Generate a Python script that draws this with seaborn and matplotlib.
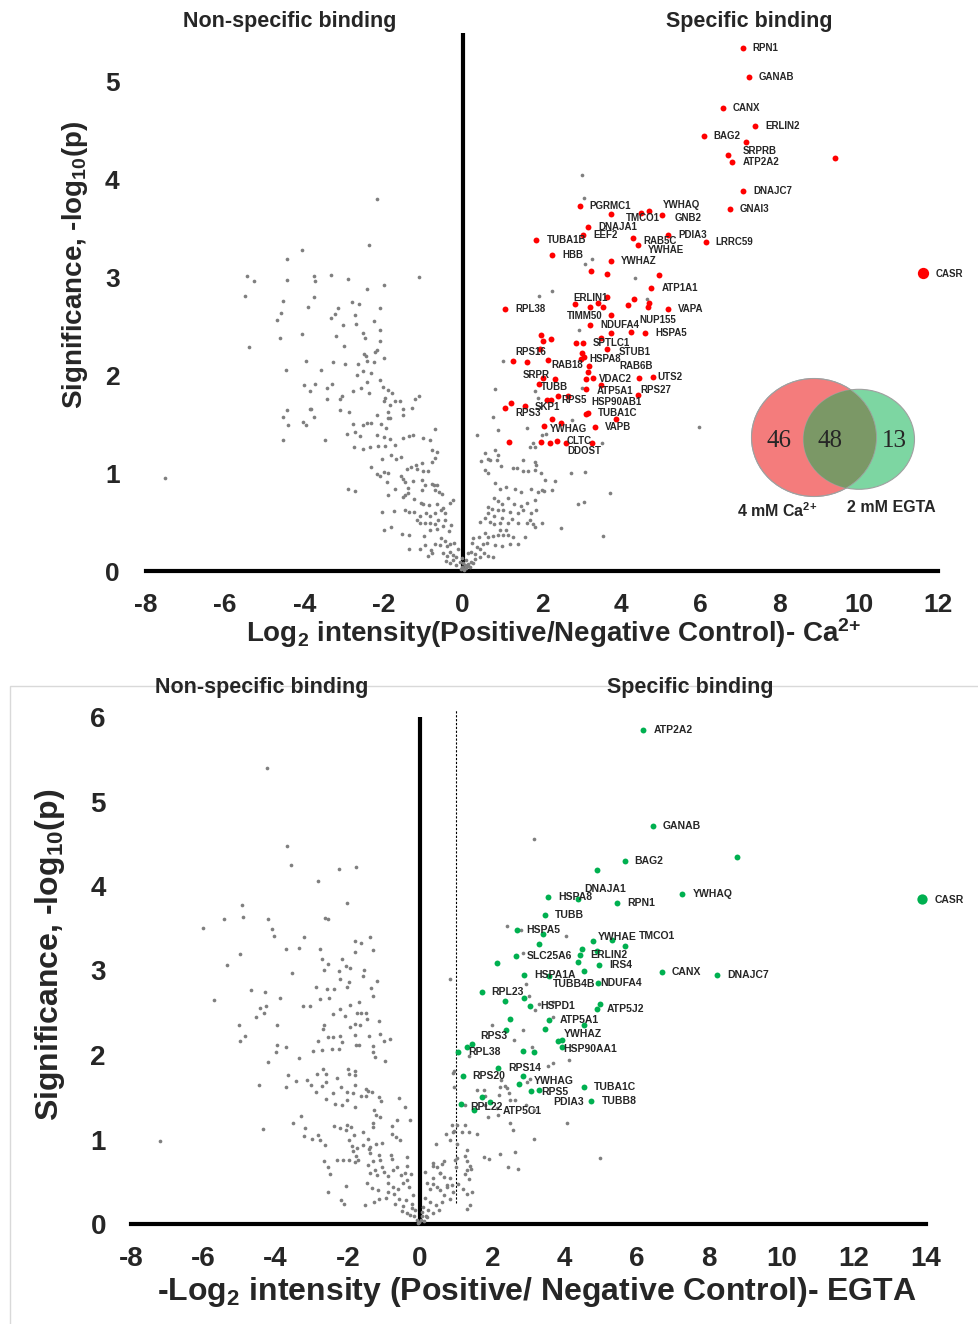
import numpy as np
import pandas as pd
import matplotlib
matplotlib.use("Agg")
import matplotlib.pyplot as plt
from matplotlib.patches import Ellipse, Rectangle
import seaborn as sns

# ---------------- data: top panel (4 mM Ca2+) ----------------
red_x = [7.07, 7.22, 6.57, 7.38, 6.08, 7.15, 6.69, 6.81, 9.40, 7.08, 6.74, 2.95, 3.74, 4.49, 4.69, 5.02,
         3.16, 3.04, 1.86, 4.31, 4.43, 5.19, 6.13, 2.26, 3.73, 3.23, 3.63, 4.95, 4.76, 3.65, 3.42, 3.22,
         3.55, 2.83, 4.32, 4.17, 4.70, 4.68, 5.19, 1.07, 3.73, 3.22, 3.74, 4.26, 4.60, 3.48, 3.63, 2.85,
         3.04, 1.98, 2.23, 2.02, 1.94, 1.28, 1.63, 2.15, 2.98, 3.06, 3.02, 3.18, 3.17, 2.33, 2.02, 3.12,
         3.29, 4.45, 4.80, 3.49, 1.92, 3.11, 4.42, 2.41, 2.66, 2.12, 2.23, 1.22, 1.06, 1.57, 3.11, 3.17,
         3.86, 2.24, 2.49, 2.04, 3.34, 1.16, 1.97, 2.20, 2.38, 2.60, 3.27]
red_y = [5.35, 5.05, 4.73, 4.55, 4.45, 4.39, 4.25, 4.18, 4.22, 3.88, 3.70, 3.73, 3.65, 3.66, 3.68, 3.64,
         3.52, 3.44, 3.38, 3.40, 3.33, 3.44, 3.36, 3.23, 3.17, 3.07, 3.04, 3.03, 2.89, 2.80, 2.74, 2.70,
         2.70, 2.73, 2.78, 2.72, 2.74, 2.70, 2.68, 2.68, 2.62, 2.51, 2.43, 2.44, 2.43, 2.38, 2.27, 2.33,
         2.33, 2.41, 2.37, 2.35, 2.27, 2.15, 2.14, 2.16, 2.17, 2.19, 2.23, 2.10, 2.03, 1.96, 1.97, 1.96,
         1.97, 1.97, 1.98, 1.90, 1.91, 1.86, 1.80, 1.79, 1.79, 1.75, 1.75, 1.72, 1.67, 1.69, 1.61, 1.62,
         1.55, 1.55, 1.51, 1.48, 1.47, 1.32, 1.32, 1.31, 1.33, 1.31, 1.31]
red_names = ["RPN1", "GANAB", "CANX", "ERLIN2", "BAG2", "", "SRPRB", "ATP2A2", "", "DNAJC7", "GNAI3",
             "PGRMC1", "TMCO1", "", "YWHAQ", "GNB2", "DNAJA1", "EEF2", "TUBA1B", "RAB5C", "YWHAE",
             "PDIA3", "LRRC59", "HBB", "YWHAZ", "", "", "", "ATP1A1", "", "", "ERLIN1", "", "", "", "",
             "", "", "VAPA", "RPL38", "TIMM50", "NDUFA4", "", "NUP155", "HSPA5", "", "STUB1", "",
             "SPTLC1", "", "", "", "", "", "RPS16", "RAB18", "HSPA8", "", "", "", "RAB6B", "SRPR", "",
             "", "VDAC2", "", "UTS2", "", "TUBB", "ATP5A1", "RPS27", "", "", "SKP1", "RPS5", "", "",
             "RPS3", "HSP90AB1", "TUBA1C", "", "", "", "YWHAG", "VAPB", "", "", "", "CLTC", "DDOST", ""]
casr_top = (11.61, 3.05)

gray_top = [
    (-2.16, 3.80), (-2.38, 3.33), (-4.06, 3.28), (-4.45, 3.19), (-5.44, 3.02), (-5.28, 2.96), (-4.45, 2.98),
    (-3.75, 3.02), (-3.73, 2.96), (-3.33, 3.03), (-2.89, 2.99), (-1.10, 3.01), (-5.50, 2.81), (-3.75, 2.80),
    (-2.43, 2.88), (-2.00, 2.92), (-4.55, 2.76), (-3.91, 2.70), (-4.60, 2.64), (-4.70, 2.57), (-3.15, 2.69),
    (-3.23, 2.63), (-3.33, 2.59), (-2.80, 2.75), (-2.63, 2.73), (-2.08, 2.69), (-2.73, 2.62), (-2.70, 2.53),
    (-3.03, 2.51), (-2.25, 2.56), (-2.10, 2.46), (-4.07, 2.42), (-4.62, 2.38), (-3.19, 2.40), (-2.53, 2.43),
    (-2.47, 2.38), (-2.08, 2.35), (-3.01, 2.30), (-2.17, 2.26), (-2.22, 2.24), (-5.40, 2.29), (-2.49, 2.22),
    (-2.45, 2.20), (-1.99, 2.18), (-3.95, 2.15), (-3.27, 2.14), (-2.97, 2.12), (-2.64, 2.12), (-2.43, 2.15),
    (-2.25, 2.14), (-4.46, 2.05), (-3.58, 2.05), (-2.66, 2.00), (-2.52, 2.04), (-2.32, 2.02), (-2.10, 1.95),
    (-2.43, 1.93), (-4.00, 1.90), (-3.86, 1.84), (-3.72, 1.91), (-3.44, 1.87), (-3.30, 1.91), (-3.42, 1.76),
    (-3.06, 1.79), (-3.10, 1.76), (-2.77, 1.84), (-2.57, 1.87), (-2.37, 1.82), (-2.01, 1.88), (-1.89, 1.85),
    (-1.78, 1.82), (-1.97, 1.77), (-1.99, 1.74), (-1.85, 1.70), (-1.72, 1.74), (-1.58, 1.74), (-1.20, 1.76),
    (-1.10, 1.79), (-4.44, 1.65), (-4.55, 1.57), (-4.41, 1.49), (-3.86, 1.66), (-3.84, 1.66), (-3.76, 1.57),
    (-4.04, 1.52), (-3.97, 1.49), (-3.10, 1.65), (-2.87, 1.63), (-2.17, 1.59), (-1.89, 1.63), (-1.89, 1.56),
    (-1.85, 1.56), (-1.51, 1.66), (-1.51, 1.59), (-1.28, 1.67), (-2.78, 1.50), (-2.52, 1.49), (-2.42, 1.51),
    (-2.32, 1.51), (-2.07, 1.50), (-1.93, 1.46), (-2.93, 1.40), (-2.72, 1.42), (-2.59, 1.38), (-2.17, 1.39),
    (-1.98, 1.37), (-1.83, 1.35), (-1.50, 1.36), (-1.36, 1.38), (-1.27, 1.39), (-1.00, 1.36), (-0.84, 1.34),
    (-0.69, 1.45), (-4.55, 1.34), (-3.48, 1.34), (-2.76, 1.27), (-2.53, 1.25), (-2.35, 1.27), (-2.14, 1.28),
    (-1.96, 1.28), (-1.70, 1.29), (-0.78, 1.24), (-0.64, 1.22), (-0.69, 1.16), (-0.79, 1.11), (-1.82, 1.19),
    (-1.68, 1.15), (-1.57, 1.17), (-2.05, 1.14), (-2.33, 1.06), (-2.17, 0.99), (-2.09, 0.97), (-1.99, 1.01),
    (-1.90, 1.00), (-1.40, 1.04), (-1.31, 1.06), (-1.19, 1.08), (-1.16, 1.04), (-1.04, 1.10), (-1.00, 1.02),
    (-0.87, 1.02), (-1.57, 0.97), (-1.52, 0.94), (-1.46, 0.91), (-1.38, 0.85), (-1.27, 0.92), (-1.92, 0.91),
    (-1.72, 0.84), (-1.88, 0.78), (-1.02, 0.93), (-0.95, 0.88), (-1.04, 0.83), (-0.78, 0.89), (-0.73, 0.88),
    (-0.66, 0.88), (-0.70, 0.83), (-0.61, 0.81), (-0.52, 0.79), (-2.91, 0.84), (-2.72, 0.82), (-1.38, 0.80),
    (-1.23, 0.74), (-1.51, 0.76), (-1.46, 0.78), (-1.05, 0.70), (-1.00, 0.68), (-0.86, 0.67), (-0.64, 0.68),
    (-0.51, 0.64), (-0.33, 0.70), (-0.24, 0.73), (-2.03, 0.60), (-1.73, 0.61), (-1.46, 0.62), (-1.35, 0.60),
    (-1.24, 0.60), (-1.08, 0.56), (-0.93, 0.59), (-0.83, 0.56), (-0.70, 0.59), (-0.56, 0.62), (-0.45, 0.59),
    (-1.15, 0.52), (-1.08, 0.49), (-0.96, 0.49), (-0.83, 0.49), (-0.70, 0.48), (-0.62, 0.52), (-0.45, 0.52),
    (-1.99, 0.42), (-1.81, 0.45), (-1.53, 0.38), (-1.36, 0.37), (-0.97, 0.36), (-0.83, 0.42), (-0.65, 0.43),
    (-0.36, 0.41), (-0.50, 0.46), (-0.29, 0.47), (-1.36, 0.23), (-1.07, 0.22), (-0.96, 0.27), (-0.80, 0.21),
    (-0.70, 0.28), (-0.57, 0.27), (-0.55, 0.34), (-0.45, 0.31), (-0.41, 0.26), (-0.33, 0.28), (-0.22, 0.29),
    (-0.12, 0.23), (-0.89, 0.15), (-0.79, 0.18), (-0.50, 0.18), (-0.41, 0.15), (-0.33, 0.19), (-0.24, 0.16),
    (-0.16, 0.14), (-0.43, 0.10), (-0.33, 0.08), (-0.24, 0.11), (-0.16, 0.06), (-0.08, 0.09), (-0.03, 0.04),
    (0.01, 0.03), (0.05, 0.06), (-7.52, 0.95),
    (3.00, 4.05), (3.06, 3.81), (3.25, 3.19), (3.08, 3.14), (4.34, 3.00), (1.93, 2.81), (2.25, 2.86),
    (4.65, 2.78), (2.93, 2.46), (1.02, 2.15), (0.81, 1.86), (1.83, 1.84), (3.00, 1.87), (1.89, 1.77),
    (2.10, 1.75), (0.76, 1.57), (1.62, 1.46), (2.77, 1.54), (5.96, 1.47), (0.35, 1.39), (0.89, 1.44),
    (1.78, 1.31), (1.82, 1.27), (1.69, 1.27), (3.52, 1.31), (0.81, 1.24), (0.64, 1.15), (0.89, 1.19),
    (1.99, 1.39), (2.11, 1.40), (0.56, 1.21), (0.68, 1.13), (0.87, 1.13), (0.46, 1.12), (1.52, 1.13),
    (1.82, 1.11), (1.84, 1.08), (1.27, 1.05), (1.36, 1.05), (1.52, 1.02), (1.65, 1.02), (1.82, 1.03),
    (1.97, 1.00), (0.57, 1.03), (0.64, 1.00), (0.96, 1.07), (2.74, 1.00), (3.08, 1.01), (0.81, 0.90),
    (0.93, 0.835), (1.10, 0.855), (1.31, 0.835), (1.48, 0.81), (1.73, 0.84), (1.90, 0.81), (2.00, 0.83),
    (2.05, 0.82), (2.24, 0.83), (2.07, 0.93), (2.32, 0.92), (3.71, 0.80), (0.79, 0.75), (0.89, 0.72),
    (0.99, 0.69), (1.14, 0.75), (1.30, 0.69), (1.48, 0.66), (1.61, 0.70), (1.82, 0.73), (0.64, 0.65),
    (0.74, 0.63), (0.88, 0.62), (1.02, 0.62), (0.64, 0.59), (0.79, 0.56), (0.98, 0.54), (1.19, 0.60),
    (1.40, 0.59), (1.52, 0.62), (1.72, 0.59), (1.86, 0.62), (2.91, 0.68), (3.06, 0.71), (0.43, 0.50),
    (0.56, 0.54), (0.68, 0.50), (0.79, 0.48), (0.93, 0.49), (1.14, 0.49), (1.23, 0.53), (1.40, 0.49),
    (1.61, 0.49), (1.78, 0.48), (1.99, 0.49), (1.82, 0.45), (1.69, 0.52), (2.49, 0.44), (0.26, 0.34),
    (0.40, 0.35), (0.56, 0.385), (0.64, 0.35), (0.77, 0.357), (0.89, 0.37), (1.02, 0.37), (1.14, 0.37),
    (1.27, 0.344), (1.57, 0.344), (0.93, 0.42), (1.10, 0.42), (3.54, 0.357), (0.22, 0.29), (0.37, 0.25),
    (0.51, 0.276), (0.62, 0.29), (0.81, 0.265), (0.98, 0.26), (1.19, 0.28), (1.40, 0.276), (0.20, 0.197),
    (0.32, 0.173), (0.43, 0.146), (0.54, 0.187), (0.64, 0.156), (0.77, 0.14), (0.43, 0.22), (0.135, 0.18),
    (-0.03, 0.13), (0.09, 0.11), (0.20, 0.095), (0.32, 0.12), (0.01, 0.078), (0.135, 0.07), (0.26, 0.078),
    (0.08, 0.03), (0.12, 0.05), (0.18, 0.04), (-0.05, 0.02), (0.03, 0.015),
]

# ---------------- data: bottom panel (2 mM EGTA) ----------------
green_x = [6.18, 6.44, 5.66, 8.77, 4.90, 4.36, 3.55, 5.45, 7.26, 3.45, 2.67, 3.40, 3.28, 4.79, 5.30,
           5.66, 4.48, 4.42, 4.37, 4.90, 2.66, 2.14, 4.96, 6.69, 8.22, 2.87, 3.57, 4.54, 4.92, 1.70,
           2.35, 2.88, 3.04, 4.99, 4.89, 2.50, 3.58, 4.53, 3.45, 2.37, 3.81, 3.94, 1.29, 1.43, 1.05,
           2.85, 3.14, 3.92, 2.16, 1.18, 2.86, 2.74, 3.07, 3.29, 4.54, 1.71, 4.74, 1.13, 1.49, 1.94]
green_y = [5.85, 4.71, 4.30, 4.34, 4.19, 3.85, 3.87, 3.80, 3.90, 3.66, 3.48, 3.43, 3.31, 3.35, 3.36,
           3.29, 3.25, 3.18, 3.10, 3.23, 3.17, 3.09, 3.06, 2.98, 2.95, 2.95, 2.93, 3.00, 2.85, 2.74,
           2.64, 2.68, 2.58, 2.60, 2.55, 2.43, 2.42, 2.36, 2.31, 2.29, 2.17, 2.18, 2.10, 2.13, 2.04,
           2.05, 2.03, 2.09, 1.85, 1.75, 1.75, 1.66, 1.57, 1.58, 1.62, 1.50, 1.45, 1.42, 1.35, 1.44]
green_names = ["ATP2A2", "GANAB", "BAG2", "", "", "DNAJA1", "HSPA8", "RPN1", "YWHAQ", "TUBB", "HSPA5",
               "", "", "YWHAE", "", "TMCO1", "", "ERLIN2", "", "", "SLC25A6", "", "IRS4", "CANX",
               "DNAJC7", "HSPA1A", "TUBB4B", "", "NDUFA4", "RPL23", "", "", "HSPD1", "", "ATP5J2", "",
               "ATP5A1", "", "", "RPS3", "", "YWHAZ", "", "", "RPL38", "", "", "HSP90AA1", "RPS14",
               "RPS20", "", "YWHAG", "PDIA3", "RPS5", "TUBA1C", "", "TUBB8", "RPL22", "", "ATP5C1"]
casr_bot = (13.88, 3.85)

gray_bot = [
    (-4.23, 5.40), (-3.67, 4.47), (-3.58, 4.25), (-2.24, 4.20), (-1.77, 4.22), (-2.83, 4.06), (-2.02, 3.80),
    (-4.94, 3.77), (-4.91, 3.63), (-5.43, 3.61), (-6.00, 3.50), (-4.22, 3.61), (-4.09, 3.49), (-4.04, 3.41),
    (-2.63, 3.62), (-2.56, 3.61), (-3.21, 3.40), (-3.34, 3.27), (-3.72, 3.25), (-2.78, 3.26), (-2.72, 3.14),
    (-2.56, 3.08), (-2.67, 3.01), (-2.15, 3.14), (-2.04, 3.05), (-1.93, 3.03), (-2.25, 2.99), (-2.22, 2.90),
    (-1.97, 2.86), (-2.01, 2.81), (-1.80, 3.35), (-1.63, 3.32), (-1.38, 3.40), (-1.80, 3.22), (-1.29, 3.24),
    (-1.54, 3.01), (-1.59, 2.94), (-1.18, 2.87), (-1.36, 2.79), (-1.29, 2.70), (-4.97, 3.20), (-5.33, 3.06),
    (-3.55, 2.97), (-4.68, 2.77), (-4.30, 2.75), (-5.71, 2.65), (-3.89, 2.67), (-4.43, 2.56), (-4.27, 2.58),
    (-4.33, 2.50), (-4.54, 2.45), (-2.88, 2.80), (-2.77, 2.66), (-2.57, 2.78), (-2.51, 2.68), (-2.37, 2.78),
    (-3.24, 2.58), (-3.06, 2.58), (-2.42, 2.48), (-2.21, 2.54), (-2.07, 2.46), (-1.94, 2.59), (-1.74, 2.50),
    (-1.63, 2.50), (-1.50, 2.50), (-1.46, 2.43), (-1.70, 2.63), (-1.13, 2.40), (-5.00, 2.35), (-3.97, 2.35),
    (-4.84, 2.23), (-4.99, 2.17), (-2.66, 2.35), (-2.70, 2.31), (-2.54, 2.21), (-2.41, 2.21), (-2.23, 2.22),
    (-1.95, 2.33), (-1.81, 2.37), (-1.67, 2.36), (-1.80, 2.24), (-1.40, 2.23), (-1.12, 2.25), (-1.01, 2.17),
    (-0.83, 2.19), (-2.82, 2.16), (-2.95, 2.05), (-2.71, 2.06), (-2.43, 2.07), (-2.25, 2.07), (-2.16, 2.15),
    (-1.76, 2.12), (-1.70, 2.12), (-1.31, 2.11), (-1.31, 2.04), (-1.24, 1.98), (-0.97, 1.93), (-3.96, 2.12),
    (-3.72, 2.10), (-4.00, 2.03), (-4.22, 1.92), (-3.35, 1.97), (-3.66, 1.76), (-3.70, 1.62), (-3.43, 1.69),
    (-3.14, 1.70), (-3.02, 1.64), (-4.47, 1.64), (-2.84, 1.78), (-2.70, 1.84), (-2.59, 1.78), (-2.60, 1.68),
    (-2.87, 1.56), (-2.71, 1.63), (-2.60, 1.48), (-2.40, 1.55), (-2.29, 1.73), (-2.20, 1.62), (-2.35, 1.42),
    (-2.17, 1.41), (-2.02, 1.47), (-2.02, 1.56), (-1.99, 1.84), (-1.98, 1.78), (-1.81, 1.81), (-1.79, 1.76),
    (-1.80, 1.64), (-1.85, 1.55), (-1.79, 1.39), (-1.64, 1.51), (-1.49, 1.60), (-1.50, 1.52), (-1.44, 1.57),
    (-1.33, 1.56), (-1.14, 1.50), (-1.09, 1.46), (-1.27, 1.35), (-1.21, 1.29), (-1.10, 1.27), (-1.31, 1.20),
    (-1.30, 1.15), (-1.57, 1.09), (-1.44, 1.01), (-1.38, 0.91), (-0.57, 1.49), (-0.42, 1.39), (-0.28, 1.23),
    (-0.65, 1.23), (-0.77, 1.16), (-0.77, 1.06), (-0.67, 1.03), (-0.55, 1.00), (-3.29, 1.28), (-3.53, 1.19),
    (-3.19, 1.14), (-3.22, 1.04), (-2.99, 1.01), (-2.83, 1.05), (-2.78, 0.99), (-2.62, 0.93), (-2.37, 1.16),
    (-2.21, 1.14), (-2.04, 1.11), (-2.01, 1.17), (-1.91, 1.15), (-1.84, 1.05), (-1.98, 1.00), (-1.74, 0.90),
    (-1.57, 0.93), (-1.42, 0.89), (-1.22, 0.95), (-1.05, 0.96), (-4.35, 1.13), (-7.19, 0.98), (-1.88, 0.92),
    (-1.85, 0.86), (-1.78, 0.80), (-1.73, 0.76), (-1.39, 0.84), (-1.29, 0.75), (-1.14, 0.82), (-1.10, 0.76),
    (-2.65, 0.74), (-2.55, 0.68), (-2.49, 0.59), (-2.31, 0.76), (-2.14, 0.76), (-1.97, 0.76), (-1.79, 0.73),
    (-1.45, 0.70), (-1.39, 0.60), (-1.26, 0.64), (-1.18, 0.58), (-1.05, 0.68), (-0.99, 0.62), (-0.88, 0.57),
    (-0.74, 0.64), (-0.81, 0.82), (-0.77, 0.77), (-0.63, 0.67), (-0.54, 0.58), (-0.41, 0.60), (-0.36, 0.79),
    (-0.37, 0.69), (-0.24, 0.59), (-1.46, 0.48), (-1.32, 0.43), (-1.17, 0.40), (-0.89, 0.48), (-0.76, 0.44),
    (-0.61, 0.41), (-0.46, 0.48), (-0.37, 0.52), (-0.30, 0.44), (-2.55, 0.38), (-2.05, 0.45), (-2.20, 0.28),
    (-2.10, 0.24), (-1.52, 0.22), (-1.27, 0.26), (-1.14, 0.29), (-0.95, 0.31), (-0.90, 0.38), (-0.73, 0.36),
    (-0.69, 0.24), (-0.57, 0.30), (-0.46, 0.21), (-0.40, 0.28), (-0.23, 0.24), (-0.19, 0.34), (-0.51, 0.15),
    (-0.37, 0.13), (-0.28, 0.11), (-0.18, 0.09), (-0.09, 0.05), (-0.05, 0.01), (-0.14, 0.17), (-0.23, 0.19),
    (3.15, 4.56), (2.41, 3.53), (2.78, 3.48), (4.04, 3.41), (0.82, 2.90), (2.85, 3.21), (2.94, 2.84),
    (3.02, 2.70), (2.34, 2.63), (3.19, 2.53), (3.30, 2.60), (3.69, 2.63), (3.67, 2.45), (1.99, 2.36),
    (2.84, 2.29), (2.60, 2.18), (3.11, 2.09), (4.13, 1.94), (3.69, 1.91), (3.55, 1.87), (1.36, 1.99),
    (0.94, 1.81), (0.95, 1.62), (2.25, 1.70), (2.35, 1.63), (3.03, 1.72), (1.57, 1.58), (1.78, 1.58),
    (1.80, 1.51), (2.17, 1.53), (1.25, 1.41), (1.80, 1.41), (2.12, 1.37), (2.49, 1.47), (0.92, 1.79),
    (2.22, 1.62), (2.40, 1.61), (2.95, 1.68), (2.45, 1.55), (2.63, 1.47), (2.94, 1.41), (3.14, 1.35),
    (1.89, 1.27), (2.15, 1.29), (2.49, 1.19), (2.58, 1.11), (3.14, 1.01), (4.06, 1.19), (4.99, 0.78),
    (0.88, 1.17), (0.95, 1.10), (1.02, 1.17), (1.25, 1.17), (1.15, 1.09), (1.36, 1.09), (1.57, 1.06),
    (0.83, 0.99), (1.02, 0.95), (1.29, 0.87), (0.97, 0.76), (1.00, 0.68), (1.78, 0.79), (1.92, 0.77),
    (2.22, 0.83), (2.63, 0.85), (2.43, 0.68), (2.72, 0.65), (1.25, 0.80), (1.29, 0.74), (1.39, 0.69),
    (1.41, 0.65), (1.25, 0.59), (1.34, 0.53), (1.06, 0.47), (1.20, 0.42), (1.29, 0.36), (1.43, 0.38),
    (1.39, 0.22), (1.29, 0.18), (0.37, 0.69), (0.60, 0.71), (0.54, 0.60), (0.37, 0.54), (0.14, 0.62),
    (0.18, 0.49), (0.37, 0.47), (0.46, 0.44), (0.28, 0.42), (0.55, 0.40), (0.74, 0.44), (0.88, 0.46),
    (0.92, 0.38), (0.65, 0.34), (0.83, 0.29), (0.60, 0.26), (0.44, 0.22), (0.28, 0.26), (0.14, 0.31),
    (0.09, 0.20), (0.23, 0.16), (0.37, 0.13), (0.51, 0.17), (0.65, 0.56), (0.83, 0.54), (0.74, 0.46),
    (0.37, 0.72), (0.46, 0.68), (0.55, 0.60), (0.65, 0.74), (0.44, 0.95), (0.72, 1.07), (0.92, 1.09),
    (1.02, 0.78), (1.29, 0.64), (0.02, 0.05), (0.06, 0.09), (0.10, 0.04), (0.15, 0.10), (0.04, 0.14),
    (0.20, 0.08), (-0.02, 0.02),
]

venn_counts = [46, 48, 13]
venn_sets = ["4 mM Ca$^{2{+}}$", "2 mM EGTA"]

# label offsets (pixels, right / down) for gene labels
top_offsets = {"SRPRB": (15, -4), "TMCO1": (15, 4), "YWHAQ": (14, -6), "GNB2": (13, 3), "RAB5C": (10, 3),
               "YWHAE": (10, 5), "ERLIN1": (-17, -9), "TIMM50": (-44, 1), "NUP155": (8, -12),
               "STUB1": (12, 3), "RPS16": (-12, -10), "RAB18": (3, 5), "HSPA8": (9, 0), "RAB6B": (31, -6),
               "SRPR": (-32, -4), "VDAC2": (6, 1), "UTS2": (4, 0), "TUBB": (2, 3), "ATP5A1": (11, 2),
               "RPS27": (3, -5), "SKP1": (-12, 7), "RPS3": (-10, 7), "HSP90AB1": (5, -12),
               "YWHAG": (6, 3), "DDOST": (2, 8)}
bot_offsets = {"DNAJA1": (7, -10), "YWHAE": (5, -4), "TMCO1": (14, -10), "TUBB4B": (4, 8),
               "NDUFA4": (2, 0), "RPS3": (-25, 6), "YWHAZ": (1, -6), "HSP90AA1": (2, 2),
               "YWHAG": (15, -3), "PDIA3": (22, 11), "RPS5": (2, 2), "RPL22": (9, 3), "ATP5C1": (13, 9)}

# ---------------- styling ----------------
sns.set_style("white")
plt.rcParams["font.family"] = ["Liberation Sans", "DejaVu Sans"]
plt.rcParams["font.weight"] = "bold"
plt.rcParams["axes.unicode_minus"] = False
plt.rcParams["mathtext.fontset"] = "custom"
plt.rcParams["mathtext.bf"] = "Liberation Sans:bold"
plt.rcParams["mathtext.rm"] = "Liberation Sans:bold"
plt.rcParams["mathtext.default"] = "bf"

W, H = 979, 1324
fig = plt.figure(figsize=(W / 100, H / 100), dpi=100)


def px_axes(l, t, r, b):
    return fig.add_axes([l / W, 1 - b / H, (r - l) / W, (b - t) / H])


def draw_panel(ax, gray, cx, cy, names, casr, color, offsets, label_fs, dot_s, casr_s, tick_fs):
    gdf = pd.DataFrame(gray, columns=["x", "y"])
    sns.scatterplot(data=gdf, x="x", y="y", ax=ax, color="#7f7f7f", s=7, linewidth=0,
                    legend=False, zorder=4, clip_on=False)
    cdf = pd.DataFrame({"x": cx, "y": cy, "name": names})
    sns.scatterplot(data=cdf, x="x", y="y", ax=ax, color=color, s=dot_s, linewidth=0,
                    legend=False, zorder=5, clip_on=False)
    sdf = pd.DataFrame({"x": [casr[0]], "y": [casr[1]]})
    sns.scatterplot(data=sdf, x="x", y="y", ax=ax, color=color, s=casr_s, linewidth=0,
                    legend=False, zorder=5, clip_on=False)
    for x, y, n in zip(cx, cy, names):
        if not n:
            continue
        dx, dy = offsets.get(n, (10, 0))
        ax.annotate(n, (x, y), xytext=(dx * 0.72, -dy * 0.72), textcoords="offset points",
                    ha="left", va="center", fontsize=label_fs, fontweight="bold", zorder=6,
                    annotation_clip=False)
    ax.annotate("CASR", casr, xytext=(13 * 0.72, -1 * 0.72), textcoords="offset points",
                ha="left", va="center", fontsize=label_fs, fontweight="bold", annotation_clip=False)
    for s in ["left", "top", "right"]:
        ax.spines[s].set_visible(False)
    ax.spines["bottom"].set_linewidth(3)
    ax.spines["bottom"].set_color("black")
    ax.axvline(0, color="black", lw=3, zorder=3)
    ax.tick_params(length=0, labelsize=tick_fs)
    for lab in ax.get_xticklabels() + ax.get_yticklabels():
        lab.set_fontweight("bold")


# ---------------- top panel ----------------
ax1 = px_axes(146, 33, 938, 571)
draw_panel(ax1, gray_top, red_x, red_y, red_names, casr_top, "#ff0000", top_offsets, 7, 18, 66, 19)
ax1.set_xlim(-8, 12)
ax1.set_ylim(0, 5.5)
ax1.set_xticks(range(-8, 13, 2))
ax1.set_yticks(range(0, 6))
ax1.tick_params(axis="x", pad=16)
ax1.tick_params(axis="y", pad=19)
ax1.set_xlabel("Log$_{2}$ intensity(Positive/Negative Control)- Ca$^{2{+}}$", fontsize=20, fontweight="bold")
ax1.set_ylabel("Significance, -log$_{10}$(p)", fontsize=20, fontweight="bold")
ax1.xaxis.label.set_va("center")
ax1.yaxis.label.set_va("center")
ax1.xaxis.set_label_coords(0.515, -0.115)
ax1.yaxis.set_label_coords(-0.090, 0.569)
fig.text(290 / W, 1 - 22 / H, "Non-specific binding", ha="center", va="center", fontsize=15.5, fontweight="bold")
fig.text(749 / W, 1 - 22 / H, "Specific binding", ha="center", va="center", fontsize=15.5, fontweight="bold")

# ---------------- bottom panel ----------------
ax2 = px_axes(131, 717, 926, 1224)
draw_panel(ax2, gray_bot, green_x, green_y, green_names, casr_bot, "#00b050", bot_offsets, 7.5, 18, 55, 20)
ax2.set_xlim(-8, 14)
ax2.set_ylim(0, 6)
ax2.set_xticks(range(-8, 15, 2))
ax2.set_yticks(range(0, 7))
ax2.tick_params(axis="x", pad=16)
ax2.tick_params(axis="y", pad=18)
threshold = 1
ax2.vlines(threshold, 0.25, 6.08, colors="black", linestyles=(0, (2, 1.5)), lw=0.8, zorder=2, clip_on=False)
ax2.set_xlabel("-Log$_{2}$ intensity (Positive/ Negative Control)- EGTA", fontsize=23, fontweight="bold")
ax2.set_ylabel("Significance, -log$_{10}$(p)", fontsize=23, fontweight="bold")
ax2.xaxis.label.set_va("center")
ax2.yaxis.label.set_va("center")
ax2.xaxis.set_label_coords(0.511, -0.134)
ax2.yaxis.set_label_coords(-0.102, 0.531)
fig.text(262 / W, 1 - 687 / H, "Non-specific binding", ha="center", va="center", fontsize=15.5, fontweight="bold")
fig.text(690 / W, 1 - 687 / H, "Specific binding", ha="center", va="center", fontsize=15.5, fontweight="bold")

# faint frame around the lower panel
fig.add_artist(Rectangle((10 / W, -0.01), (W - 10) / W + 0.02, (H - 686) / H + 0.01,
                         transform=fig.transFigure, fill=False, ec="#d9d9d9", lw=1))

# ---------------- Venn inset ----------------
axv = px_axes(740, 370, 960, 525)
axv.set_xlim(740, 960)
axv.set_ylim(525, 370)
axv.axis("off")
red_c = Ellipse((814, 437.5), 125, 118, fc="#f47c7c", ec="#a0a0a0", lw=0.8, zorder=1)
grn_c = Ellipse((859, 439.3), 111, 100, fc="#7dd6a2", ec="#a0a0a0", lw=0.8, zorder=2)
ovl = Ellipse((859, 439.3), 111, 100, fc="#7b9866", ec="none", zorder=3)
axv.add_patch(red_c)
axv.add_patch(grn_c)
axv.add_patch(ovl)
ovl.set_clip_path(red_c)
red_edge = Ellipse((814, 437.5), 125, 118, fc="none", ec="#a0a0a0", lw=0.6, zorder=4)
axv.add_patch(red_edge)
for xx, c in zip([779, 830, 894], venn_counts):
    axv.text(xx, 441, str(c), ha="center", va="center", fontsize=18,
             family="Liberation Serif", fontweight="normal", zorder=5)
axv.text(777, 511, venn_sets[0], ha="center", va="center", fontsize=11.5, fontweight="bold", clip_on=False)
axv.text(891, 508, venn_sets[1], ha="center", va="center", fontsize=11.5, fontweight="bold", clip_on=False)

fig.savefig("out.png", dpi=100)
